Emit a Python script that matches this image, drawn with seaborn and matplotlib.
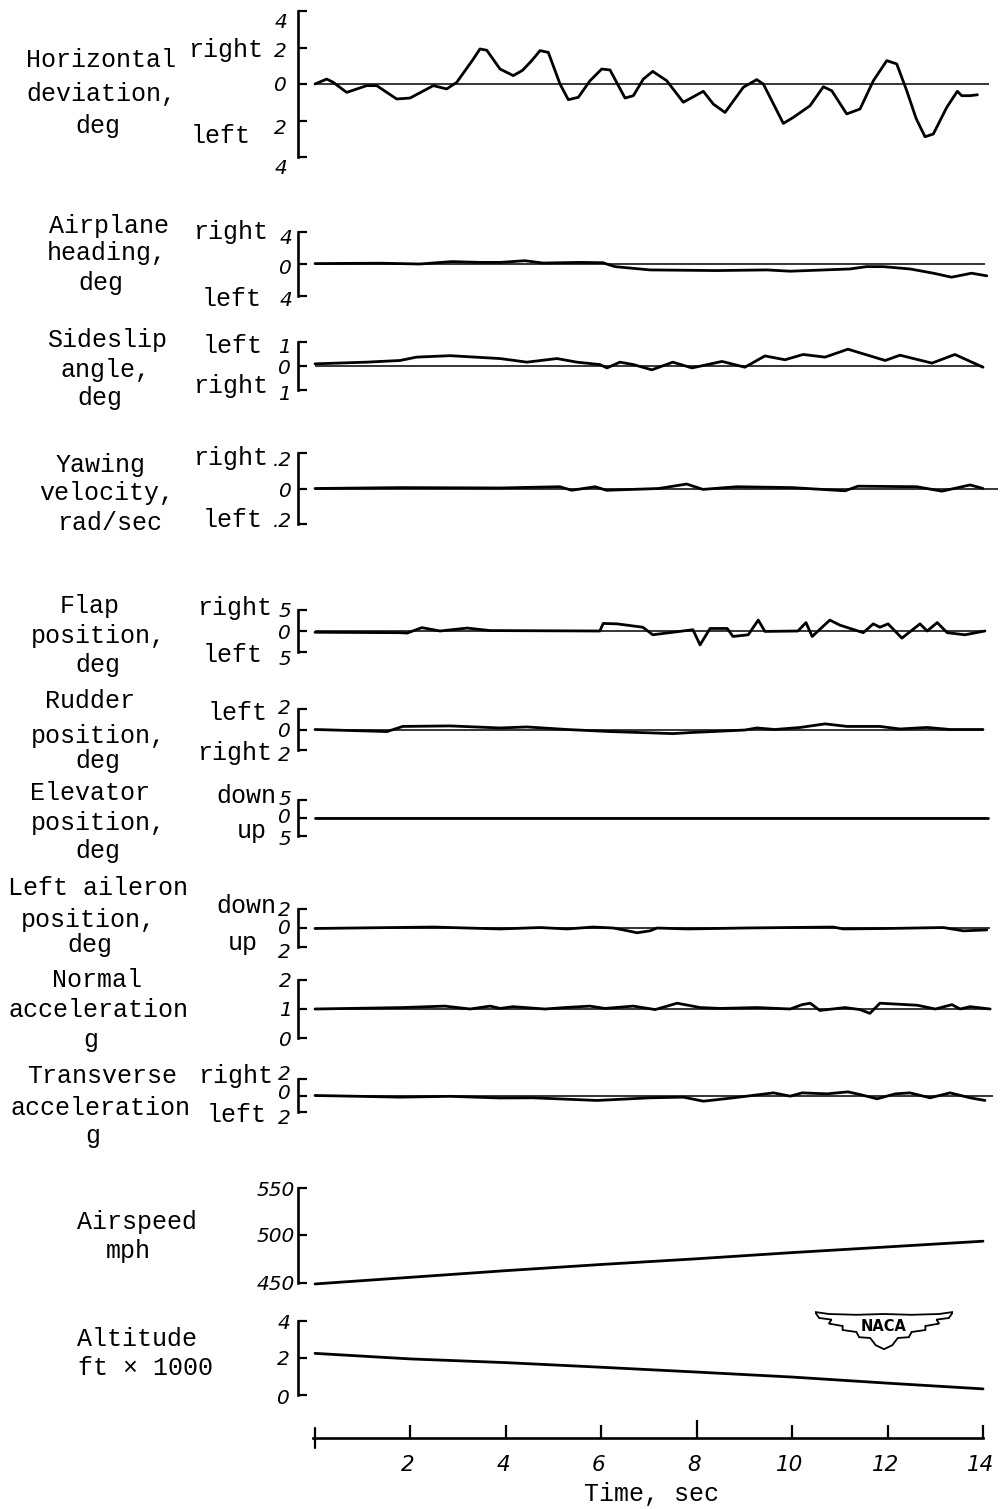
import matplotlib
matplotlib.use("Agg")
import matplotlib.pyplot as plt
from matplotlib.patches import Polygon
import seaborn as sns

# ---------------- data ----------------
hd_t = [0.00, 0.245, 0.377, 0.664, 1.084, 1.293, 1.712, 1.991, 2.480, 2.760, 2.970, 3.30, 3.458, 3.60, 3.878,
        4.156, 4.35, 4.542, 4.716, 4.890, 5.135, 5.309, 5.519, 5.764, 6.009, 6.183, 6.498, 6.672, 6.881, 7.078,
        7.372, 7.719, 8.139, 8.348, 8.593, 8.977, 9.258, 9.396, 9.815, 10.025, 10.375, 10.654, 10.830,
        11.144, 11.423, 11.702, 11.983, 12.192, 12.402, 12.60, 12.785, 12.959, 13.240, 13.462, 13.555,
        13.729, 13.882]
hd_v = [0.0, 0.27, 0.1, -0.46, -0.09, -0.09, -0.82, -0.77, -0.09, -0.27, 0.09, 1.3, 1.92, 1.85, 0.82,
        0.46, 0.75, 1.28, 1.83, 1.73, 0.0, -0.86, -0.73, 0.18, 0.82, 0.77, -0.77, -0.64, 0.27, 0.69,
        0.18, -1.0, -0.4, -1.1, -1.56, -0.18, 0.24, 0.0, -2.16, -1.83, -1.19, -0.15, -0.37,
        -1.64, -1.37, 0.18, 1.28, 1.1, -0.37, -1.9, -2.89, -2.74, -1.28, -0.4, -0.64,
        -0.64, -0.59]

hdg_t = [0.0, 1.36, 2.2, 2.87, 3.46, 3.88, 4.40, 4.78, 5.55, 6.04, 6.11, 6.29, 7.02, 8.42, 9.47, 9.96,
         11.21, 11.56, 11.91, 12.47, 12.96, 13.34, 13.76, 14.08]
hdg_v = [0.05, 0.1, 0.0, 0.3, 0.2, 0.2, 0.41, 0.12, 0.2, 0.16, 0.0, -0.33, -0.74, -0.82, -0.74, -0.9,
         -0.62, -0.33, -0.33, -0.62, -1.15, -1.65, -1.15, -1.48]

ss_t = [0.0, 1.08, 1.78, 2.13, 2.83, 3.88, 4.44, 5.07, 5.49, 5.97, 6.12, 6.39, 6.67, 7.06, 7.50, 7.90,
        8.53, 9.01, 9.43, 9.85, 10.23, 10.69, 11.17, 11.95, 12.26, 12.93, 13.41, 14.0]
ss_v = [0.09, 0.16, 0.23, 0.37, 0.43, 0.31, 0.16, 0.31, 0.16, 0.06, -0.08, 0.16, 0.06, -0.16, 0.16, -0.08,
        0.19, -0.05, 0.42, 0.26, 0.48, 0.37, 0.70, 0.23, 0.45, 0.12, 0.48, -0.05]

yaw_t = [0.0, 1.78, 3.88, 5.13, 5.38, 5.87, 6.11, 7.20, 7.79, 8.13, 8.84, 10.0, 11.11, 11.38, 12.61,
         13.14, 13.73, 14.0]
yaw_v = [0.0, 0.005, 0.003, 0.01, -0.01, 0.01, -0.01, 0.0, 0.025, -0.005, 0.01, 0.005, -0.013, 0.013,
         0.01, -0.015, 0.02, 0.0]

flap_t = [0.0, 1.78, 1.93, 2.24, 2.62, 3.19, 3.67, 5.97, 6.04, 6.33, 6.87, 7.08, 7.92, 8.07, 8.28, 8.64,
          8.76, 9.08, 9.29, 9.43, 10.12, 10.29, 10.42, 10.79, 11.00, 11.49, 11.70, 11.84, 12.01, 12.30,
          12.68, 12.83, 13.04, 13.25, 13.62, 14.04]
flap_v = [-0.3, -0.4, -0.5, 0.8, 0.0, 0.7, 0.1, 0.0, 1.8, 1.7, 0.9, -0.9, 0.3, -3.3, 0.6, 0.6,
          -1.3, -0.9, 2.6, -0.1, 0.0, 2.0, -1.3, 2.6, 1.4, -0.4, 1.7, 0.9, 1.7, -1.7,
          1.7, 0.0, 2.0, -0.4, -0.9, 0.0]

rud_t = [0.0, 1.51, 1.84, 2.83, 3.88, 4.44, 5.28, 6.18, 7.50, 7.86, 8.34, 9.01, 9.26, 9.64, 10.17,
         10.69, 11.15, 11.84, 12.26, 12.83, 13.31, 14.0]
rud_v = [0.0, -0.2, 0.3, 0.35, 0.15, 0.25, 0.0, -0.2, -0.4, -0.3, -0.2, -0.05, 0.15, 0.0, 0.2,
         0.55, 0.3, 0.3, 0.05, 0.2, 0.0, 0.0]

elev_t = [0.0, 14.1]
elev_v = [0.0, 0.0]

ail_t = [0.0, 2.48, 3.88, 4.72, 5.28, 5.83, 6.25, 6.46, 6.75, 7.02, 7.17, 7.80, 9.0, 10.86, 11.07,
         12.0, 13.17, 13.59, 14.08]
ail_v = [-0.05, 0.1, -0.1, 0.05, -0.1, 0.1, 0.0, -0.2, -0.5, -0.3, 0.0, -0.1, 0.0, 0.1, -0.1,
         -0.05, 0.05, -0.3, -0.2]

nrm_t = [0.0, 1.84, 2.72, 3.25, 3.67, 3.88, 4.15, 4.82, 5.24, 5.76, 6.08, 6.67, 7.13, 7.59, 8.07,
         8.49, 9.26, 9.96, 10.21, 10.38, 10.58, 11.11, 11.42, 11.63, 11.84, 12.62, 13.0, 13.35, 13.52,
         13.73, 14.15]
nrm_v = [1.0, 1.05, 1.1, 1.0, 1.1, 1.02, 1.08, 1.0, 1.05, 1.1, 1.02, 1.1, 0.98, 1.2, 1.05,
         1.02, 1.05, 1.0, 1.15, 1.2, 0.95, 1.05, 0.98, 0.85, 1.2, 1.13, 1.0, 1.15, 1.0,
         1.08, 1.0]

trn_t = [0.0, 0.94, 1.78, 2.83, 3.88, 4.57, 5.91, 7.02, 7.72, 8.14, 8.77, 9.61, 9.96, 10.21, 10.73,
         11.17, 11.42, 11.78, 12.16, 12.47, 12.89, 13.31, 13.73, 14.04]
trn_v = [0.0, -0.1, -0.2, -0.1, -0.3, -0.28, -0.6, -0.28, -0.2, -0.69, -0.28, 0.32, -0.08, 0.32, 0.2,
         0.44, 0.12, -0.4, 0.2, 0.32, -0.28, 0.32, -0.28, -0.6]

as_t = [0, 2, 4, 6, 8, 10, 12, 14]
as_v = [449, 456, 463, 469.5, 475.5, 482, 488, 494]

alt_t = [0, 2, 4, 6, 8, 10, 12, 14]
alt_v = [2.25, 1.95, 1.75, 1.5, 1.24, 0.97, 0.64, 0.33]

time_ticks = [2, 4, 6, 8, 10, 12, 14]
time_labels = ["2", "4", "6", "8", "10", "12", "14"]

# ---------------- styling / layout ----------------
W, H = 1001, 1509
sns.set_style("white")
plt.rcParams['font.family'] = ['Liberation Mono', 'DejaVu Sans']
plt.rcParams['axes.edgecolor'] = 'black'

fig = plt.figure(figsize=(W / 100, H / 100), dpi=100)
fig.patch.set_facecolor('white')

X0, X1 = 315.0, 983.0          # pixel columns of t = 0 and t = 14
PT = 72 / 100                  # points per pixel

LBL = dict(family=['Liberation Mono', 'DejaVu Sans'], fontsize=18, color='black')
NUM = dict(family='DejaVu Sans', style='italic', fontsize=14.5, color='black')
TNUM = dict(family='DejaVu Sans', style='italic', fontsize=15.5, color='black')


def fx(x):
    return x / W


def fy(y):
    return 1 - y / H


def make_panel(ytop, ybot, vmin, vmax, ticks):
    ax = fig.add_axes([fx(X0), fy(ybot), (X1 - X0) / W, (ybot - ytop) / H])
    ax.set_xlim(0, 14)
    ax.set_ylim(vmin, vmax)
    ax.patch.set_alpha(0)
    for s in ('top', 'right', 'bottom'):
        ax.spines[s].set_visible(False)
    sp = ax.spines['left']
    sp.set_position(('outward', 17 * PT))
    sp.set_linewidth(1.9)
    sp.set_color('black')
    ax.set_xticks([])
    ax.set_yticks(ticks)
    ax.tick_params(axis='y', direction='in', length=9 * PT, width=1.6, left=True,
                   labelleft=False, color='black')
    return ax


panels = [
    dict(t=hd_t, v=hd_v, top=11, bot=157, vmin=-4, vmax=4, ticks=[-4, -2, 0, 2, 4], zero=0, zend=14.13,
         nums=[('4', 21), ('2', 50), ('0', 84), ('2', 127), ('4', 167)], numx=287,
         words=[('right', 263, 57), ('left', 251, 143)],
         title=[('Horizontal', 101, 67), ('deviation,', 101, 101), ('deg', 98, 133)]),
    dict(t=hdg_t, v=hdg_v, top=232, bot=296, vmin=-4, vmax=4, ticks=[-4, 0, 4], zero=0, zend=14.04,
         nums=[('4', 237), ('0', 267), ('4', 298.5)], numx=292,
         words=[('right', 268, 239), ('left', 262, 306)],
         title=[('Airplane', 109, 233), ('heading,', 107, 260), ('deg', 101, 290)]),
    dict(t=ss_t, v=ss_v, top=342, bot=390, vmin=-1, vmax=1, ticks=[-1, 0, 1], zero=0, zend=14.0,
         nums=[('1', 346), ('0', 367.5), ('1', 393)], numx=291,
         words=[('left', 263, 353), ('right', 268, 393)],
         title=[('Sideslip', 107, 347), ('angle,', 105, 377), ('deg', 100, 405)]),
    dict(t=yaw_t, v=yaw_v, top=453, bot=524, vmin=-0.2, vmax=0.2, ticks=[-0.2, 0, 0.2], zero=0, zend=14.32,
         nums=[('.2', 459), ('0', 490), ('.2', 520)], numx=292,
         words=[('right', 268, 465), ('left', 263, 527)],
         title=[('Yawing', 101, 472), ('velocity,', 107, 500), ('rad/sec', 110, 530)]),
    dict(t=flap_t, v=flap_v, top=610, bot=652, vmin=-5, vmax=5, ticks=[-5, 0, 5], zero=0, zend=14.04,
         nums=[('5', 610), ('0', 632), ('5', 658)], numx=291,
         words=[('right', 272, 615), ('left', 263, 662)],
         title=[('Flap', 90, 613), ('position,', 98, 643), ('deg', 98, 672)]),
    dict(t=rud_t, v=rud_v, top=709, bot=750, vmin=-2, vmax=2, ticks=[-2, 0, 2], zero=0, zend=14.0,
         nums=[('2', 707.5), ('0', 730), ('2', 754)], numx=291,
         words=[('left', 268, 720), ('right', 272, 760)],
         title=[('Rudder', 90, 708), ('position,', 98, 743), ('deg', 98, 768)]),
    dict(t=elev_t, v=elev_v, top=800, bot=836, vmin=-5, vmax=5, ticks=[-5, 0, 5], zero=0, zend=14.06,
         nums=[('5', 798), ('0', 816), ('5', 838)], numx=291,
         words=[('down', 276, 803), ('up', 267, 838)],
         title=[('Elevator', 90, 800), ('position,', 98, 830), ('deg', 98, 858)]),
    dict(t=ail_t, v=ail_v, top=909, bot=947, vmin=-2, vmax=2, ticks=[-2, 0, 2], zero=0, zend=14.15,
         nums=[('2', 909), ('0', 927.5), ('2', 951)], numx=291,
         words=[('down', 276, 913), ('up', 258, 950)],
         title=[('Left aileron', 97.5, 895), ('position,', 88.5, 927), ('deg', 90, 952)]),
    dict(t=nrm_t, v=nrm_v, top=980, bot=1038, vmin=0, vmax=2, ticks=[0, 1, 2], zero=1, zend=14.17,
         nums=[('2', 980), ('1', 1009), ('0', 1039.5)], numx=292,
         words=[],
         title=[('Normal', 97.5, 987), ('acceleration', 98.5, 1017), ('g', 91, 1047)]),
    dict(t=trn_t, v=trn_v, top=1079, bot=1112, vmin=-2, vmax=2, ticks=[-2, 0, 2], zero=0, zend=14.21,
         nums=[('2', 1073), ('0', 1092), ('2', 1117)], numx=291,
         words=[('right', 273, 1083), ('left', 267, 1122)],
         title=[('Transverse', 102, 1083), ('acceleration', 101, 1115), ('g', 93, 1143)]),
    dict(t=as_t, v=as_v, top=1188, bot=1283, vmin=450, vmax=550, ticks=[450, 500, 550], zero=None, zend=None,
         nums=[('550', 1189.5), ('500', 1235.5), ('450', 1283.5)], numx=295,
         words=[],
         title=[('Airspeed', 137, 1229), ('mph', 128, 1258)]),
    dict(t=alt_t, v=alt_v, top=1321, bot=1395, vmin=0, vmax=4, ticks=[0, 2, 4], zero=None, zend=None,
         nums=[('4', 1322), ('2', 1358), ('0', 1397)], numx=290,
         words=[],
         title=[('Altitude', 137, 1346), ('ft \u00d7 1000', 146, 1375)]),
]

for p in panels:
    ax = make_panel(p['top'], p['bot'], p['vmin'], p['vmax'], p['ticks'])
    if p['zero'] is not None:
        ax.hlines(p['zero'], 0, p['zend'], color='black', linewidth=1.1, clip_on=False)
    sns.lineplot(x=p['t'], y=p['v'], ax=ax, color='black', linewidth=2.0,
                 estimator=None, sort=False)
    ax.lines[-1].set_clip_on(False)
    ax.lines[-1].set_solid_joinstyle('round')
    ax.set_xlabel('')
    ax.set_ylabel('')
    for s, yc in p['nums']:
        fig.text(fx(p['numx']), fy(yc + 7), s, ha='right', va='baseline', **NUM)
    for w, xr, yb in p['words']:
        fig.text(fx(xr), fy(yb), w, ha='right', va='baseline', **LBL)
    for s, xc, yb in p['title']:
        fig.text(fx(xc), fy(yb), s, ha='center', va='baseline', **LBL)

# ---------------- time axis ----------------
axt = fig.add_axes([fx(X0), fy(1438), (X1 - X0) / W, 20 / H])
axt.set_xlim(0, 14)
axt.set_ylim(0, 1)
axt.patch.set_alpha(0)
for s in ('top', 'right', 'left'):
    axt.spines[s].set_visible(False)
axt.spines['bottom'].set_linewidth(1.9)
axt.spines['bottom'].set_color('black')
axt.spines['bottom'].set_bounds(-0.04, 14)
axt.set_yticks([])
major = [t for t in time_ticks if t != 8]
axt.set_xticks(major)
axt.set_xticks([8], minor=True)
axt.tick_params(axis='x', which='major', direction='in', length=13 * PT, width=1.6,
                bottom=True, labelbottom=False, color='black')
axt.tick_params(axis='x', which='minor', direction='in', length=18 * PT, width=1.6,
                bottom=True, labelbottom=False, color='black')
axt.plot([0, 0], [-0.5, 0.5], color='black', linewidth=1.6, clip_on=False)
for t, s in zip(time_ticks, time_labels):
    axt.text(t - 0.05, -1.65, s, ha='center', va='baseline', **TNUM)
fig.text(fx(651), fy(1501), 'Time, sec', ha='center', va='baseline', **LBL)

# ---------------- NACA emblem ----------------
axl = fig.add_axes([fx(815), fy(1350), 138 / W, 40 / H])
axl.set_xlim(0, 1)
axl.set_ylim(0, 1)
axl.axis('off')
wing = [(0.0, 0.95), (0.1, 0.9), (0.3, 0.88), (0.5, 0.9), (0.7, 0.88), (0.9, 0.9), (1.0, 0.95),
        (0.97, 0.8), (0.88, 0.76), (0.9, 0.66), (0.8, 0.6), (0.8, 0.5), (0.7, 0.45), (0.68, 0.32),
        (0.6, 0.3), (0.56, 0.12), (0.5, 0.02), (0.44, 0.12), (0.4, 0.3), (0.32, 0.32), (0.3, 0.45),
        (0.2, 0.5), (0.2, 0.6), (0.1, 0.66), (0.12, 0.76), (0.03, 0.8)]
axl.add_patch(Polygon(wing, closed=True, fill=False, linewidth=1.3, edgecolor='black'))
axl.text(0.5, 0.58, 'NACA', ha='center', va='center', family='DejaVu Sans', weight='bold',
         fontsize=10.5, color='black')

fig.savefig('out.png', dpi=100, facecolor='white')
